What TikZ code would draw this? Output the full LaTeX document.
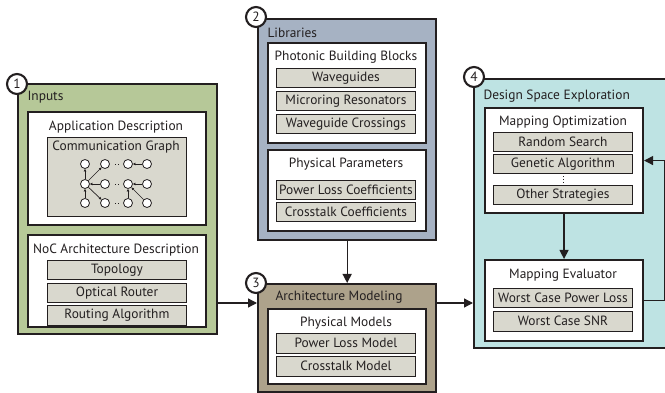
\documentclass[tikz,border=0pt]{standalone}
\usepackage{fontspec}
\setmainfont{PT Sans}
\usetikzlibrary{arrows.meta,positioning}
\definecolor{inkcol}{HTML}{231F20}
\definecolor{inputcol}{HTML}{B6C898}
\definecolor{libcol}{HTML}{A6B2C3}
\definecolor{archcol}{HTML}{ADA28B}
\definecolor{dsecol}{HTML}{BEE3E3}
\definecolor{itemcol}{HTML}{D9D8CE}

\begin{document}
\begin{tikzpicture}[
    x=1pt, y=-1pt,
    >={Triangle[length=9pt, width=9pt]},
    font=\fontsize{13.4}{15}\selectfont,
    every node/.style={text=inkcol},
    stagebox/.style={draw=inkcol, line width=2.3pt, anchor=north west, inner sep=0pt},
    groupbox/.style={draw=inkcol, fill=white, line width=2.1pt, anchor=north west,
      minimum width=158pt, inner sep=0pt},
    itembox/.style={draw=inkcol, fill=itemcol, line width=0.9pt, anchor=north west,
      minimum width=139pt, minimum height=19.5pt, inner sep=0pt},
    numcircle/.style={circle, draw=inkcol, fill=white, line width=2.1pt,
      minimum size=20pt, inner sep=0pt},
    gnode/.style={circle, draw=inkcol, fill=white, line width=0.8pt,
      minimum size=9pt, inner sep=0pt},
    garrow/.style={inkcol, line width=0.7pt, -{Triangle[length=2.5pt, width=2.5pt]}},
    flow/.style={inkcol, line width=1.3pt, ->},
  ]
  \useasboundingbox (0,0) rectangle (665,393);

  % Stage 1: inputs
  \node[stagebox, fill=inputcol, minimum width=199pt, minimum height=250pt] (inputs) at (17,83) {};
  \node[anchor=west] (inputslbl) at (24,97) {Inputs};
  \node[groupbox, minimum width=178pt, minimum height=113pt] (app) at (27,111) {};
  \node (applbl) at (116,127) {Application Description};
  \node[itembox, minimum height=79pt] (comm) at (47,137) {};
  \node (commlbl) at (116,147) {Communication Graph};

  % communication graph
  \foreach \c/\x in {0/85,1/105,2/128,3/147}
    \foreach \r/\y in {0/164,1/184,2/203}
      \node[gnode] (g\c\r) at (\x,\y) {};
  \draw[garrow, {Triangle[length=2.5pt, width=2.5pt]}-] (g00) -- (g01);
  \draw[garrow] (g01) -- (g10);
  \draw[garrow, {Triangle[length=2.5pt, width=2.5pt]}-] (g01) -- (g11);
  \draw[garrow, {Triangle[length=2.5pt, width=2.5pt]}-] (g01) -- (g02);
  \draw[garrow] (g01) -- (g12);
  \draw[garrow, {Triangle[length=2.5pt, width=2.5pt]}-] (g20) -- (g30);
  \draw[garrow, {Triangle[length=2.5pt, width=2.5pt]}-] (g21) -- (g31);
  \draw[garrow] (g22) -- (g21);
  \draw[garrow] (g32) -- (g21);
  \foreach \r in {0,1,2}
    \draw[inkcol, line width=0.8pt, dotted, shorten <=8.5pt, shorten >=8.5pt] (g1\r) -- (g2\r);

  \node[groupbox, minimum width=178pt, minimum height=92pt] (noc) at (27,234) {};
  \node (noclbl) at (116,250) {NoC Architecture Description};
  \node[itembox] (topo) at (47,260) {Topology};
  \node[itembox] (router) at (47,283) {Optical Router};
  \node[itembox] (routing) at (47,305) {Routing Algorithm};
  \node[numcircle] (num1) at (17,84) {1};

  % Stage 2: libraries
  \node[stagebox, fill=libcol, minimum width=178pt, minimum height=221pt] (libs) at (257,18) {};
  \node[anchor=west] (libslbl) at (264,33) {Libraries};
  \node[groupbox, minimum height=100pt] (blocks) at (267,42) {};
  \node (blockslbl) at (346,57) {Photonic Building Blocks};
  \node[itembox] (wg) at (276,68) {Waveguides};
  \node[itembox] (mrr) at (276,91) {Microring Resonators};
  \node[itembox] (wgc) at (276,114) {Waveguide Crossings};
  \node[groupbox, minimum height=81pt] (params) at (267,149) {};
  \node (paramslbl) at (346,164) {Physical Parameters};
  \node[itembox] (plc) at (276,180) {Power Loss Coefficients};
  \node[itembox] (ctc) at (276,202) {Crosstalk Coefficients};
  \node[numcircle] (num2) at (256,17) {2};

  % Stage 3: architecture modeling
  \node[stagebox, fill=archcol, minimum width=178pt, minimum height=108pt] (arch) at (257,283) {};
  \node[anchor=west] (archlbl) at (272,297) {Architecture Modeling};
  \node[groupbox, minimum height=75pt] (models) at (267,308) {};
  \node (modelslbl) at (346,323) {Physical Models};
  \node[itembox] (plm) at (276,333) {Power Loss Model};
  \node[itembox] (ctm) at (276,356) {Crosstalk Model};
  \node[numcircle] (num3) at (256,283) {3};

  % Stage 4: design space exploration
  \node[stagebox, fill=dsecol, minimum width=200pt, minimum height=269pt] (dse) at (473,78) {};
  \node[anchor=west] (dselbl) at (480,96) {Design Space Exploration};
  \node[groupbox, minimum height=105pt] (opt) at (484,107) {};
  \node (optlbl) at (563,122) {Mapping Optimization};
  \node[itembox] (rnd) at (493,132) {Random Search};
  \node[itembox] (ga) at (493,154) {Genetic Algorithm};
  \node[itembox] (other) at (493,185) {Other Strategies};
  \draw[inkcol, line width=0.8pt, dotted, shorten <=2pt, shorten >=1.5pt] (ga) -- (other);
  \node[groupbox, minimum height=81pt] (eval) at (484,259) {};
  \node (evallbl) at (563,275) {Mapping Evaluator};
  \node[itembox] (wcpl) at (493,288) {Worst Case Power Loss};
  \node[itembox] (wcsnr) at (493,311) {Worst Case SNR};
  \node[numcircle] (num4) at (474,77) {4};

  % Flow between stages
  \draw[flow] (inputs.east |- 0,303) -- (arch.west |- 0,303);
  \draw[flow] (libs) -- (arch);
  \draw[flow] (arch.east |- 0,303) -- (dse.west |- 0,303);
  \draw[flow] (opt) -- (eval);
  \draw[flow] (eval.east) -- ++(21,0) |- (opt.east);

\end{tikzpicture}
\end{document}
